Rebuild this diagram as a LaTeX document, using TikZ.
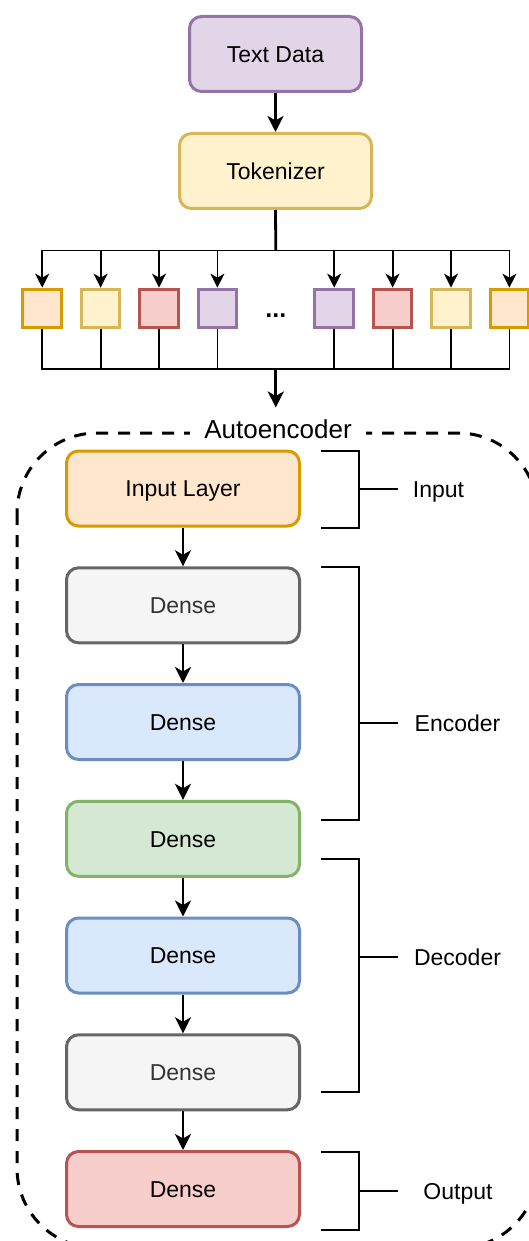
\documentclass[tikz,border=0pt]{standalone}
\usepackage{fontspec}
\setmainfont{Liberation Sans}
\usetikzlibrary{arrows.meta}
\definecolor{purF}{HTML}{E1D5E7}\definecolor{purD}{HTML}{9673A6}
\definecolor{yelF}{HTML}{FFF2CC}\definecolor{yelD}{HTML}{D6B656}
\definecolor{orgF}{HTML}{FFE6CC}\definecolor{orgD}{HTML}{D79B00}
\definecolor{redF}{HTML}{F8CECC}\definecolor{redD}{HTML}{B85450}
\definecolor{bluF}{HTML}{DAE8FC}\definecolor{bluD}{HTML}{6C8EBF}
\definecolor{grnF}{HTML}{D5E8D4}\definecolor{grnD}{HTML}{82B366}
\definecolor{gryF}{HTML}{F5F5F5}\definecolor{gryD}{HTML}{666666}
\definecolor{gryT}{HTML}{333333}
\begin{document}
\begin{tikzpicture}[x=1pt,y=-1pt,
  box/.style={draw, line width=3pt, rounded corners=12pt, minimum width=233pt,
    minimum height=75pt, inner sep=0pt, font=\fontsize{23}{28}\selectfont,
    text height=16.5pt, text depth=0pt},
  tokbox/.style={draw, line width=3pt, minimum size=38.5pt, inner sep=0pt},
  lbl/.style={font=\fontsize{23}{28}\selectfont, inner sep=0pt, text height=16.5pt, text depth=0pt},
  arr/.style={line width=2.8pt, -{Stealth[length=16pt,width=16pt,inset=4.5pt]}},
  thinarr/.style={line width=1.8pt, -{Stealth[length=14pt,width=14pt,inset=4pt]}},
  bus/.style={line width=1.8pt, line cap=rect},
  brk/.style={line width=2pt},
  gray box/.style={box, fill=gryF, draw=gryD, text=gryT}
]
\useasboundingbox (0,0) rectangle (529,1241);
\fill[white] (0,0) rectangle (529,1241);

% top
\node[box, fill=purF, draw=purD, minimum width=172pt] (td) at (275.5,54) {Text Data};
\node[box, fill=yelF, draw=yelD, minimum width=192pt] (tok) at (275.5,171) {Tokenizer};
\draw[arr] (td) -- (tok);

% tokens
\foreach \k/\f/\d [count=\i] in {0/orgF/orgD,1/yelF/yelD,2/redF/redD,3/purF/purD,5/purF/purD,6/redF/redD,7/yelF/yelD,8/orgF/orgD}
  \node[tokbox, fill=\f, draw=\d] (t\i) at ({42.2+58.4*\k},308.4) {};
\node[font=\fontsize{25}{30}\selectfont\bfseries, inner sep=0pt] (dots) at (275.8,316) {...};

\coordinate (bt) at (275.8,250.6);
\coordinate (bb) at (275.8,368.7);
\coordinate (aeIn) at (275.8,407.5);
\draw[line width=2.8pt] (tok.south) -- (bt);
\draw[bus] (t1.north |- bt) -- (t8.north |- bt);
\foreach \i in {1,...,8} \draw[thinarr] (t\i.north |- bt) -- (t\i.north);
\draw[bus, line cap=butt, line join=miter] (t1.south) |- (bb) -| (t8.south);
\foreach \i in {2,...,7} \draw[bus, line cap=butt] (t\i.south) -- (t\i.south |- bb);
\draw[arr] (bb) -- (aeIn);

% autoencoder container
\draw[line width=3pt, dash pattern=on 12pt off 10pt, rounded corners=80pt] (17,433) rectangle (538,1248);
\node[font=\fontsize{26}{31}\selectfont, fill=white, inner xsep=14pt, inner ysep=2pt, anchor=base] (ae) at (278,438) {Autoencoder};

% layers
\node[box, fill=orgF, draw=orgD] (L1) at (183,488.5) {Input Layer};
\node[gray box] (L2) at (183,605.3) {Dense};
\node[box, fill=bluF, draw=bluD] (L3) at (183,722) {Dense};
\node[box, fill=grnF, draw=grnD] (L4) at (183,838.8) {Dense};
\node[box, fill=bluF, draw=bluD] (L5) at (183,955.5) {Dense};
\node[gray box] (L6) at (183,1072.3) {Dense};
\node[box, fill=redF, draw=redD] (L7) at (183,1189) {Dense};
\foreach \a/\b in {L1/L2,L2/L3,L3/L4,L4/L5,L5/L6,L6/L7} \draw[arr] (\a) -- (\b);

% brackets
\draw[brk] (321,451) -| (359,528) -- (321,528); \draw[brk] (359,489) -- (398,489);
\draw[brk] (321,567) -| (359,820) -- (321,820); \draw[brk] (359,723) -- (398,723);
\draw[brk] (321,859) -| (359,1092) -- (321,1092); \draw[brk] (359,957) -- (398,957);
\draw[brk] (321,1152) -| (359,1230) -- (321,1230); \draw[brk] (359,1191) -- (398,1191);
\node[lbl] (lin) at (438.5,489) {Input};
\node[lbl] (lenc) at (457.5,723) {Encoder};
\node[lbl] (ldec) at (457.5,957) {Decoder};
\node[lbl] (lout) at (458,1191) {Output};
\end{tikzpicture}
\end{document}
